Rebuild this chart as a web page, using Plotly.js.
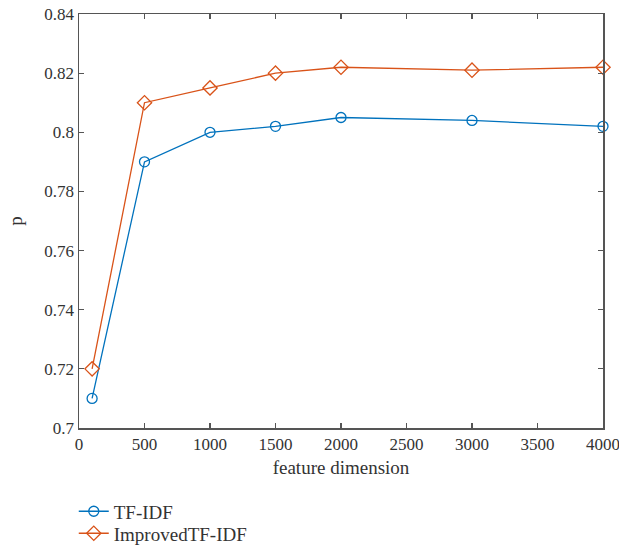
<!DOCTYPE html>
<html>
<head>
<meta charset="utf-8">
<script src="https://cdn.plot.ly/plotly-3.0.1.min.js"></script>
<style>html,body{margin:0;padding:0;background:#fff;}#chart{width:619px;height:546px;}</style>
</head>
<body>
<div id="chart"></div>
<script>
const featureDims = [100, 500, 1000, 1500, 2000, 3000, 4000];
const tfidf = [0.71, 0.79, 0.80, 0.802, 0.805, 0.804, 0.802];
const improvedTfidf = [0.72, 0.81, 0.815, 0.82, 0.822, 0.821, 0.822];
const seriesNames = ['TF-IDF', 'ImprovedTF-IDF'];
const xTicks = [0, 500, 1000, 1500, 2000, 2500, 3000, 3500, 4000];
const yTicks = [0.7, 0.72, 0.74, 0.76, 0.78, 0.8, 0.82, 0.84];
const yTickText = ['0.7', '0.72', '0.74', '0.76', '0.78', '0.8', '0.82', '0.84'];

const family = 'Liberation Serif, DejaVu Serif, serif';
const tickFont = {family: family, size: 17, color: '#333'};
const textFont = {family: family, size: 19, color: '#333'};

const traces = [
  {x: featureDims, y: tfidf, name: seriesNames[0], type: 'scatter', mode: 'lines+markers',
   line: {color: '#0072BD', width: 1.3},
   marker: {symbol: 'circle-open', size: 10, color: '#0072BD', line: {width: 1.3}},
   cliponaxis: false, legend: 'legend'},
  {x: featureDims, y: improvedTfidf, name: seriesNames[1], type: 'scatter', mode: 'lines+markers',
   line: {color: '#D95319', width: 1.3},
   marker: {symbol: 'diamond-open', size: 11, color: '#D95319', line: {width: 1.3}},
   cliponaxis: false, legend: 'legend2'}
];

const axisCommon = {
  showline: true, linecolor: '#555', linewidth: 1.5, mirror: 'ticks',
  ticks: 'inside', ticklen: 5, tickcolor: '#555', tickwidth: 1.2,
  showgrid: false, zeroline: false, tickfont: tickFont, ticklabeloverflow: 'allow'
};

const legendCommon = {x: -0.01, xanchor: 'left', yanchor: 'top', orientation: 'v',
                      font: textFont, bgcolor: 'rgba(0,0,0,0)'};

const layout = {
  width: 619, height: 546,
  margin: {l: 79, r: 16, t: 14, b: 118, autoexpand: false},
  paper_bgcolor: '#fff', plot_bgcolor: '#fff',
  font: textFont,
  showlegend: true,
  legend: Object.assign({}, legendCommon, {y: -0.1556}),
  legend2: Object.assign({}, legendCommon, {y: -0.2087}),
  xaxis: Object.assign({}, axisCommon, {
    range: [0, 4000], tickvals: xTicks, ticktext: xTicks.map(String),
    title: {text: 'feature dimension', font: textFont, standoff: 8}
  }),
  yaxis: Object.assign({}, axisCommon, {
    range: [0.7, 0.84], tickvals: yTicks, ticktext: yTickText,
    title: {text: 'p', font: textFont, standoff: 16}
  })
};

Plotly.newPlot('chart', traces, layout, {displayModeBar: false, staticPlot: true});
</script>
</body>
</html>
